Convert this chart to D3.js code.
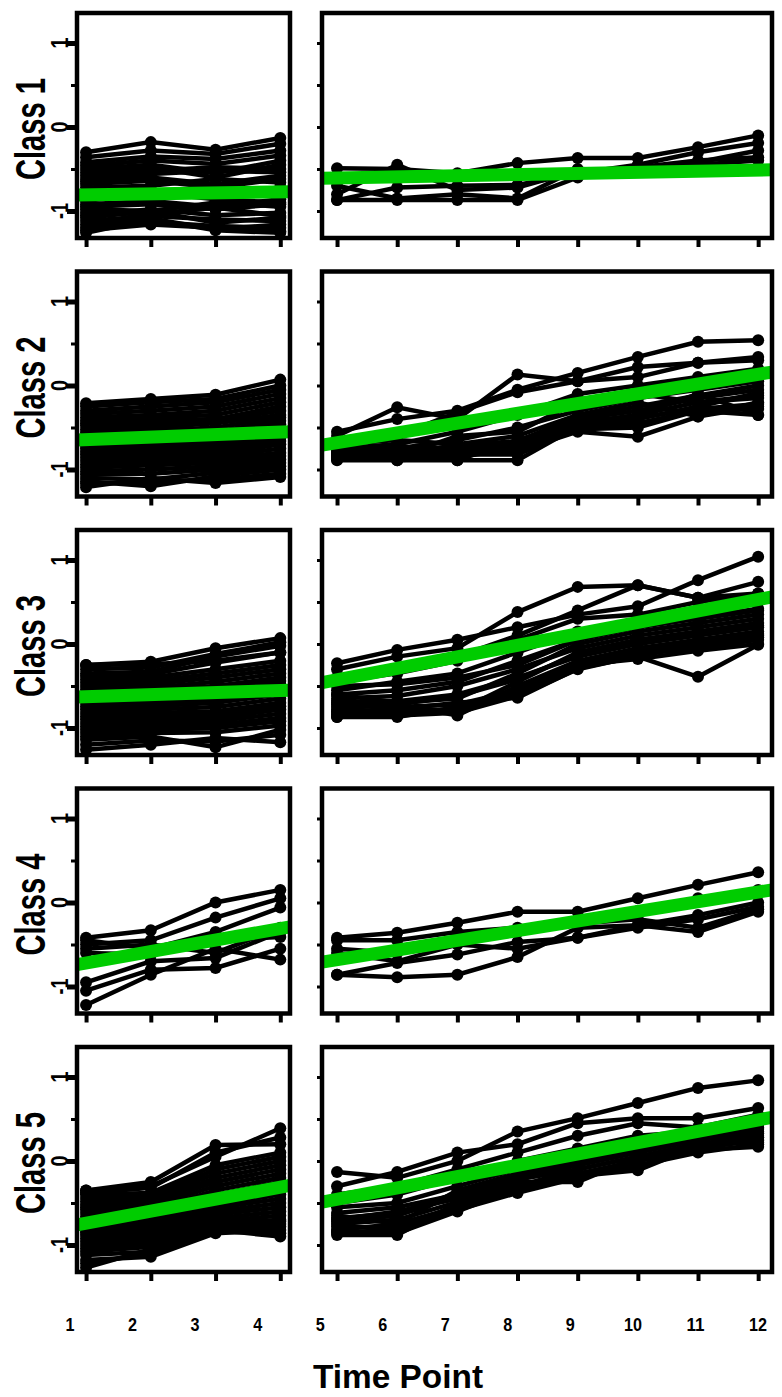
<!DOCTYPE html>
<html>
<head>
<meta charset="utf-8">
<script src="https://cdn.jsdelivr.net/npm/d3@7"></script>
<style>
body { margin: 0; background: #fff; }
svg { display: block; }
text { font-family: "Liberation Sans", Arial, sans-serif; font-weight: bold; fill: #000; }
</style>
</head>
<body>
<script>
// values (y on the standardised scale)
var classNames = ["Class 1", "Class 2", "Class 3", "Class 4", "Class 5"];
var timeLabels = ["1", "2", "3", "4", "5", "6", "7", "8", "9", "10", "11", "12"];
var leftTimes = [1, 2, 3, 4];
var rightTimes = [5, 6, 7, 8, 9, 10, 11, 12];
var yTicks = [-1, -0.5, 0, 0.5, 1];
var yLabels = [-1, 0, 1];

var class1Left = [
    [-0.30, -0.18, -0.27, -0.13], [-0.36, -0.28, -0.32, -0.20],
    [-0.42, -0.35, -0.38, -0.28], [-0.46, -0.40, -0.44, -0.34],
    [-0.50, -0.45, -0.55, -0.40], [-0.54, -0.48, -0.60, -0.45],
    [-0.58, -0.52, -0.48, -0.50], [-0.62, -0.56, -0.52, -0.54],
    [-0.65, -0.60, -0.68, -0.58], [-0.68, -0.64, -0.72, -0.62],
    [-0.72, -0.70, -0.62, -0.66], [-0.78, -0.75, -0.80, -0.72],
    [-0.85, -0.82, -0.78, -0.80], [-0.88, -0.78, -0.86, -0.90],
    [-0.92, -0.88, -0.95, -0.86], [-0.95, -0.92, -0.98, -0.92],
    [-0.98, -1.00, -0.90, -0.95], [-1.02, -1.04, -0.96, -1.06],
    [-1.05, -0.98, -1.05, -1.02], [-1.08, -1.00, -1.14, -1.08],
    [-1.12, -1.06, -1.10, -1.12], [-1.16, -1.09, -1.22, -1.16],
    [-1.20, -1.13, -1.18, -1.20], [-1.23, -1.16, -1.20, -1.24],
    [-1.26, -1.10, -1.23, -1.26]
];
var class1Right = [
    [-0.49, -0.50, -0.55, -0.43, -0.37, -0.37, -0.24, -0.10],
    [-0.87, -0.72, -0.70, -0.69, -0.55, -0.45, -0.30, -0.19],
    [-0.87, -0.87, -0.87, -0.87, -0.60, -0.48, -0.40, -0.36],
    [-0.80, -0.45, -0.75, -0.72, -0.52, -0.50, -0.42, -0.28],
    [-0.70, -0.85, -0.80, -0.85, -0.50, -0.52, -0.45, -0.40]
];

var class2Left = [
    [-0.21, -0.16, -0.11, 0.07], [-0.25, -0.20, -0.16, 0.00],
    [-0.30, -0.25, -0.20, -0.05], [-0.34, -0.30, -0.25, -0.10],
    [-0.38, -0.35, -0.30, -0.15], [-0.42, -0.38, -0.35, -0.20],
    [-0.45, -0.42, -0.40, -0.25], [-0.48, -0.46, -0.42, -0.30],
    [-0.52, -0.50, -0.45, -0.35], [-0.56, -0.54, -0.50, -0.38],
    [-0.60, -0.58, -0.55, -0.42], [-0.64, -0.62, -0.58, -0.46],
    [-0.68, -0.65, -0.62, -0.50], [-0.72, -0.68, -0.66, -0.54],
    [-0.75, -0.72, -0.70, -0.58], [-0.79, -0.76, -0.74, -0.62],
    [-0.82, -0.80, -0.78, -0.66], [-0.86, -0.84, -0.82, -0.70],
    [-0.90, -0.88, -0.85, -0.75], [-0.94, -0.92, -0.88, -0.80],
    [-0.98, -0.95, -0.92, -0.84], [-1.02, -1.00, -0.96, -0.88],
    [-1.06, -1.05, -1.00, -0.92], [-1.10, -1.12, -1.04, -0.96],
    [-1.14, -1.20, -1.08, -1.00], [-1.17, -1.15, -1.12, -1.05],
    [-1.21, -1.10, -1.16, -1.09]
];
var class2Right = [
    [-0.55, -0.40, -0.30, -0.05, 0.15, 0.34, 0.52, 0.54],
    [-0.60, -0.26, -0.40, 0.13, 0.05, 0.22, 0.27, 0.34],
    [-0.70, -0.60, -0.32, -0.08, 0.05, 0.10, 0.27, 0.30],
    [-0.75, -0.70, -0.55, -0.35, -0.10, 0.00, 0.10, 0.20],
    [-0.80, -0.75, -0.65, -0.50, -0.30, -0.15, -0.05, 0.05],
    [-0.86, -0.80, -0.75, -0.70, -0.40, -0.30, -0.15, -0.05],
    [-0.89, -0.89, -0.89, -0.89, -0.49, -0.40, -0.25, -0.09],
    [-0.86, -0.73, -0.80, -0.78, -0.55, -0.61, -0.37, -0.20],
    [-0.80, -0.89, -0.85, -0.75, -0.50, -0.45, -0.30, -0.35],
    [-0.70, -0.65, -0.70, -0.60, -0.35, -0.20, -0.37, -0.25],
    [-0.65, -0.85, -0.60, -0.55, -0.20, -0.10, -0.20, -0.15],
    [-0.78, -0.70, -0.89, -0.65, -0.45, -0.35, -0.10, -0.35],
    [-0.84, -0.82, -0.80, -0.72, -0.45, -0.35, -0.20, -0.12],
    [-0.82, -0.85, -0.82, -0.82, -0.52, -0.50, -0.30, -0.28],
    [-0.88, -0.78, -0.72, -0.66, -0.38, -0.25, -0.12, 0.00],
    [-0.76, -0.82, -0.78, -0.72, -0.42, -0.38, -0.28, -0.22]
];

var class3Left = [
    [-0.25, -0.24, -0.20, -0.10], [-0.25, -0.21, -0.05, 0.07],
    [-0.30, -0.28, -0.12, 0.02], [-0.35, -0.33, -0.15, -0.02],
    [-0.38, -0.36, -0.22, -0.10], [-0.42, -0.40, -0.30, -0.20],
    [-0.46, -0.44, -0.35, -0.25], [-0.50, -0.48, -0.40, -0.30],
    [-0.54, -0.52, -0.45, -0.35], [-0.58, -0.55, -0.50, -0.40],
    [-0.62, -0.58, -0.54, -0.44], [-0.66, -0.62, -0.58, -0.48],
    [-0.70, -0.66, -0.62, -0.52], [-0.74, -0.70, -0.66, -0.56],
    [-0.78, -0.74, -0.70, -0.60], [-0.82, -0.78, -0.75, -0.65],
    [-0.86, -0.82, -0.80, -0.70], [-0.90, -0.86, -0.84, -0.74],
    [-0.94, -0.90, -0.88, -0.78], [-0.98, -0.94, -0.92, -0.83],
    [-1.02, -0.98, -0.96, -0.88], [-1.06, -1.02, -1.00, -0.92],
    [-1.10, -1.06, -1.05, -0.97], [-1.14, -1.10, -1.23, -1.02],
    [-1.20, -1.15, -1.16, -1.08], [-1.26, -1.20, -1.12, -1.17]
];
var class3Right = [
    [-0.30, -0.15, -0.05, 0.38, 0.68, 0.70, 0.55, 0.60],
    [-0.23, -0.07, 0.05, 0.20, 0.35, 0.45, 0.76, 1.04],
    [-0.40, -0.30, -0.15, 0.10, 0.40, 0.70, 0.55, 0.74],
    [-0.45, -0.35, -0.20, 0.05, 0.30, 0.35, 0.50, 0.60],
    [-0.50, -0.48, -0.40, -0.25, 0.05, 0.22, 0.32, 0.42],
    [-0.55, -0.45, -0.35, -0.10, 0.15, 0.30, 0.40, 0.50],
    [-0.60, -0.55, -0.45, -0.20, 0.05, 0.20, 0.30, 0.40],
    [-0.65, -0.62, -0.50, -0.30, -0.05, 0.10, 0.20, 0.30],
    [-0.68, -0.72, -0.62, -0.42, -0.12, 0.02, 0.12, 0.22],
    [-0.70, -0.68, -0.60, -0.40, -0.15, 0.00, 0.10, 0.20],
    [-0.72, -0.75, -0.72, -0.55, -0.22, -0.08, 0.02, 0.12],
    [-0.75, -0.72, -0.85, -0.50, -0.20, -0.05, 0.05, 0.15],
    [-0.78, -0.80, -0.78, -0.58, -0.25, -0.18, -0.08, 0.00],
    [-0.80, -0.78, -0.70, -0.64, -0.29, -0.15, -0.39, -0.01],
    [-0.84, -0.85, -0.82, -0.62, -0.30, -0.14, -0.02, 0.08],
    [-0.87, -0.87, -0.75, -0.55, -0.25, -0.10, 0.00, 0.10],
    [-0.82, -0.80, -0.80, -0.45, -0.10, 0.05, 0.15, 0.25],
    [-0.60, -0.70, -0.65, -0.35, 0.00, 0.15, 0.25, 0.35],
    [-0.87, -0.82, -0.78, -0.60, -0.28, -0.12, -0.05, 0.05]
];

var class4Left = [
    [-0.42, -0.33, 0.00, 0.15], [-0.50, -0.45, -0.18, 0.05],
    [-0.45, -0.55, -0.35, -0.06], [-0.60, -0.62, -0.45, -0.41],
    [-0.95, -0.70, -0.66, -0.35], [-1.22, -0.86, -0.55, -0.68],
    [-1.05, -0.80, -0.78, -0.55], [-0.55, -0.50, -0.60, -0.30]
];
var class4Right = [
    [-0.42, -0.36, -0.24, -0.11, -0.11, 0.05, 0.21, 0.36],
    [-0.45, -0.45, -0.35, -0.30, -0.20, -0.10, 0.05, 0.15],
    [-0.86, -0.72, -0.62, -0.47, -0.42, -0.27, -0.15, 0.00],
    [-0.86, -0.89, -0.86, -0.65, -0.30, -0.27, -0.35, -0.11],
    [-0.60, -0.70, -0.50, -0.55, -0.42, -0.30, -0.20, -0.05],
    [-0.55, -0.60, -0.45, -0.35, -0.25, -0.20, -0.30, -0.08]
];

var class5Left = [
    [-0.35, -0.25, 0.19, 0.20], [-0.35, -0.30, 0.05, 0.39],
    [-0.38, -0.32, 0.10, 0.28], [-0.40, -0.38, -0.05, 0.10],
    [-0.44, -0.42, -0.10, 0.05], [-0.48, -0.45, -0.15, 0.00],
    [-0.52, -0.48, -0.20, -0.05], [-0.55, -0.50, -0.25, -0.10],
    [-0.58, -0.54, -0.30, -0.15], [-0.62, -0.58, -0.35, -0.20],
    [-0.66, -0.62, -0.40, -0.25], [-0.70, -0.65, -0.45, -0.30],
    [-0.74, -0.68, -0.48, -0.35], [-0.78, -0.72, -0.52, -0.40],
    [-0.82, -0.76, -0.56, -0.45], [-0.85, -0.80, -0.60, -0.50],
    [-0.88, -0.84, -0.64, -0.55], [-0.92, -0.88, -0.68, -0.60],
    [-0.96, -0.92, -0.72, -0.65], [-1.00, -0.95, -0.75, -0.70],
    [-1.04, -0.98, -0.78, -0.72], [-1.08, -1.02, -0.80, -0.75],
    [-1.12, -1.08, -0.84, -0.78], [-1.18, -1.14, -0.86, -0.82],
    [-1.22, -1.10, -0.84, -0.86], [-1.27, -1.05, -0.82, -0.90]
];
var class5Right = [
    [-0.13, -0.20, 0.00, 0.35, 0.51, 0.69, 0.87, 0.96],
    [-0.30, -0.13, 0.10, 0.20, 0.45, 0.51, 0.51, 0.63],
    [-0.40, -0.30, -0.10, 0.10, 0.30, 0.45, 0.40, 0.55],
    [-0.50, -0.40, -0.20, 0.00, 0.15, 0.30, 0.35, 0.45],
    [-0.55, -0.50, -0.30, -0.10, 0.05, 0.20, 0.30, 0.40],
    [-0.62, -0.55, -0.40, -0.20, -0.05, 0.10, 0.25, 0.35],
    [-0.68, -0.62, -0.38, -0.18, -0.02, 0.12, 0.25, 0.33],
    [-0.70, -0.60, -0.45, -0.25, -0.25, 0.05, 0.20, 0.30],
    [-0.72, -0.65, -0.42, -0.22, -0.10, 0.05, 0.20, 0.28],
    [-0.75, -0.70, -0.49, -0.30, -0.15, -0.07, 0.15, 0.25],
    [-0.78, -0.80, -0.58, -0.38, -0.20, -0.05, 0.10, 0.20],
    [-0.82, -0.75, -0.55, -0.35, -0.20, 0.00, 0.13, 0.17],
    [-0.84, -0.86, -0.60, -0.32, -0.15, 0.00, 0.18, 0.24],
    [-0.88, -0.88, -0.50, -0.30, -0.10, 0.05, 0.20, 0.22],
    [-0.85, -0.82, -0.52, -0.33, -0.18, -0.11, 0.18, 0.28],
    [-0.65, -0.75, -0.35, -0.15, 0.00, 0.15, 0.30, 0.38]
];

// green fitted line: value at the left and right edge of each panel
var greenLeft = [[-0.81, -0.77], [-0.65, -0.55], [-0.63, -0.55], [-0.74, -0.29], [-0.76, -0.29]];
var greenRight = [[-0.61, -0.51], [-0.71, 0.16], [-0.46, 0.56], [-0.71, 0.15], [-0.49, 0.52]];

var leftData = [class1Left, class2Left, class3Left, class4Left, class5Left];
var rightData = [class1Right, class2Right, class3Right, class4Right, class5Right];

var width = 782;
var height = 1397;
var rowTop = 13;
var rowStep = 258.5;
var panelH = 225;

var svg = d3.select("body")
    .append("svg")
    .attr("width", width)
    .attr("height", height);

var xLeft = d3.scaleLinear().domain([0.86, 4.15]).range([77, 290]);
var xRight = d3.scaleLinear().domain([4.75, 12.23]).range([322, 772]);
var yScale = d3.scaleLinear().domain([-1, 1]).range([198, 30]);

function drawPanel(g, xScale, times, series, green, isLeft) {
    var line = d3.line()
        .x(function(d) { return xScale(d[0]); })
        .y(function(d) { return yScale(d[1]); });

    series.forEach(function(s) {
        var pts = times.map(function(t, j) { return [t, s[j]]; });
        g.append("path")
            .attr("d", line(pts))
            .attr("fill", "none")
            .attr("stroke", "#000")
            .attr("stroke-width", 4.5);
        g.selectAll(null)
            .data(pts)
            .enter()
            .append("circle")
            .attr("cx", function(d) { return xScale(d[0]); })
            .attr("cy", function(d) { return yScale(d[1]); })
            .attr("r", 6)
            .attr("fill", "#000");
    });

    var dom = xScale.domain();
    g.append("path")
        .attr("d", line([[dom[0], green[0]], [dom[1], green[1]]]))
        .attr("fill", "none")
        .attr("stroke", "#00cc00")
        .attr("stroke-width", 13);

    var r = xScale.range();
    g.append("rect")
        .attr("x", r[0])
        .attr("y", 0)
        .attr("width", r[1] - r[0])
        .attr("height", panelH)
        .attr("fill", "none")
        .attr("stroke", "#000")
        .attr("stroke-width", 4.5);

    var xAxis = g.append("g")
        .attr("transform", "translate(0," + panelH + ")")
        .call(d3.axisBottom(xScale).tickValues(times).tickSize(9).tickFormat(""));
    xAxis.select(".domain").remove();
    xAxis.selectAll("line").attr("stroke-width", 4);

    var yAxis = g.append("g")
        .attr("transform", "translate(" + r[0] + ",0)")
        .call(d3.axisLeft(yScale).tickValues(yTicks).tickSize(isLeft ? 6 : 5).tickFormat(""));
    yAxis.select(".domain").remove();
    yAxis.selectAll("line").attr("stroke-width", 3);

    if (isLeft) {
        var major = g.append("g")
            .attr("transform", "translate(" + r[0] + ",0)")
            .call(d3.axisLeft(yScale).tickValues(yLabels).tickSize(10).tickFormat(""));
        major.select(".domain").remove();
        major.selectAll("line").attr("stroke-width", 5);

        g.selectAll(null)
            .data(yLabels)
            .enter()
            .append("text")
            .attr("transform", function(d) {
                return "translate(68," + yScale(d) + ") rotate(-90)";
            })
            .attr("text-anchor", "middle")
            .attr("font-size", 24)
            .attr("textLength", function(d) { return d < 0 ? 16 : 11; })
            .attr("lengthAdjust", "spacingAndGlyphs")
            .text(function(d) { return d; });
    }
}

classNames.forEach(function(name, i) {
    var row = svg.append("g")
        .attr("transform", "translate(0," + (rowTop + i * rowStep) + ")");

    drawPanel(row, xLeft, leftTimes, leftData[i], greenLeft[i], true);
    drawPanel(row, xRight, rightTimes, rightData[i], greenRight[i], false);

    row.append("text")
        .attr("transform", "translate(45," + 116 + ") rotate(-90)")
        .attr("text-anchor", "middle")
        .attr("font-size", 42)
        .attr("textLength", 102)
        .attr("lengthAdjust", "spacingAndGlyphs")
        .text(name);
});

// time labels sit on their own evenly spaced row
var labelScale = d3.scalePoint().domain(timeLabels).range([70, 758]);

svg.selectAll(".tlabel")
    .data(timeLabels)
    .enter()
    .append("text")
    .attr("class", "tlabel")
    .attr("x", function(d) { return labelScale(d); })
    .attr("y", 1331)
    .attr("text-anchor", "middle")
    .attr("font-size", 18)
    .attr("textLength", function(d) { return d.length * 9; })
    .attr("lengthAdjust", "spacingAndGlyphs")
    .text(function(d) { return d; });

svg.append("text")
    .attr("x", 398)
    .attr("y", 1388)
    .attr("text-anchor", "middle")
    .attr("font-size", 34)
    .attr("textLength", 170)
    .attr("lengthAdjust", "spacingAndGlyphs")
    .text("Time Point");
</script>
</body>
</html>
